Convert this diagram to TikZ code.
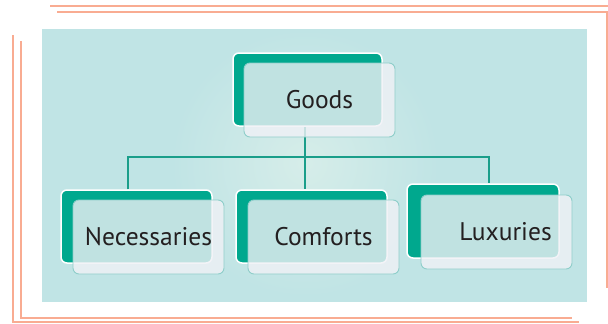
\documentclass[tikz,border=0pt]{standalone}
\usepackage{fontspec}
\setmainfont{PT Sans}
\usetikzlibrary{positioning}
\definecolor{frame}{RGB}{249,172,146}
\definecolor{panel}{RGB}{192,228,229}
\definecolor{glow}{RGB}{214,237,233}
\definecolor{leaf}{RGB}{0,168,142}
\definecolor{wire}{RGB}{26,158,138}
\definecolor{rim}{RGB}{143,206,202}
\definecolor{veil}{RGB}{240,241,246}
\definecolor{ink}{RGB}{35,31,32}
\tikzset{
  backbox/.style={draw=white, line width=1.5pt, fill=leaf, rounded corners=6pt,
    minimum width=151pt, minimum height=73pt, inner sep=0pt},
  frontbox/.style={draw=rim, line width=0.9pt, fill=veil, fill opacity=0.8,
    text opacity=1, rounded corners=6pt, minimum width=151pt, minimum height=74pt,
    inner sep=0pt, text=ink, font=\fontsize{25.5}{28}\selectfont},
  conn/.style={draw=wire, line width=1.6pt},
  edge/.style={draw=frame, line width=2.2pt}
}
\begin{document}
\begin{tikzpicture}[x=1pt,y=-1pt]
    \useasboundingbox (0,0) rectangle (608,324);
    % outer frame lines
    \draw[edge] (50,6) -- (608,6);
    \draw[edge] (57,12) -- (607,12) -- (607,288);
    \draw[edge] (13,35) -- (13,322) -- (579,322);
    \draw[edge] (21,41) -- (21,318) -- (572,318);
    % panel
    \fill[panel] (42,29) rectangle (587,302);
    \shade[inner color=glow, outer color=panel] (305,163) circle (134pt);
    % back boxes
    \node[backbox, minimum width=149pt] (goodsB) at (307.5,89.5) {};
    \node[backbox] (necB) at (136.5,226.5) {};
    \node[backbox] (comB) at (311.5,226.5) {};
    \node[backbox, minimum width=152pt, minimum height=74pt] (luxB) at (483,221) {};
    % connectors
    \coordinate (busL) at (128,157);
    \coordinate (busM) at (305,157);
    \coordinate (busR) at (489,157);
    \draw[conn] (busM |- goodsB.south) -- (busM |- comB.north);
    \draw[conn] (busL |- necB.north) -- (busL) -- (busR) -- (busR |- luxB.north);
    % front boxes
    \node[frontbox] (goods) at ([shift={(12,10.5)}]goodsB.center) {Goods};
    \node[frontbox] (nec) at ([shift={(12,10.5)}]necB.center) {Necessaries};
    \node[frontbox] (com) at ([shift={(12,10.5)}]comB.center) {Comforts};
    \node[frontbox] (lux) at ([shift={(13.5,11)}]luxB.center) {\hspace*{18pt}Luxuries};
\end{tikzpicture}
\end{document}
